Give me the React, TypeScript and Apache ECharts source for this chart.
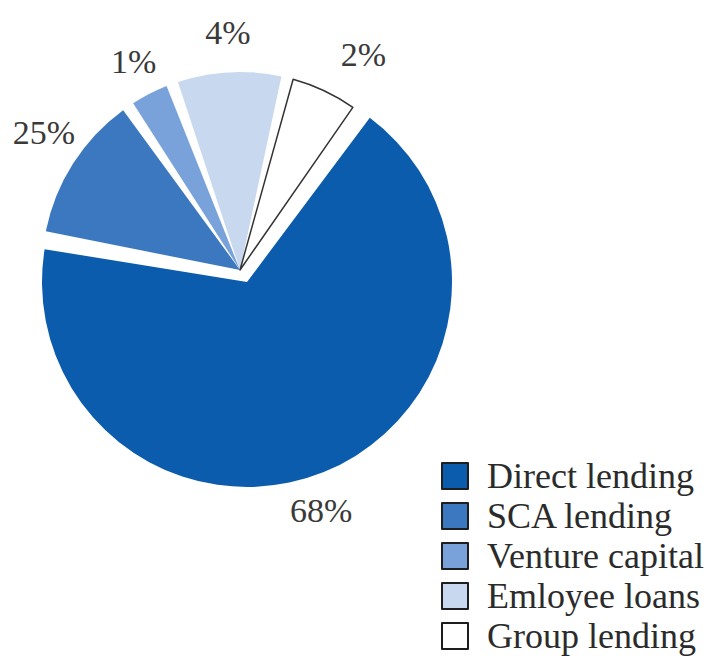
import React, { useEffect, useRef } from 'react';
import * as echarts from 'echarts';

// Data
const categories = ['Direct lending', 'SCA lending', 'Venture capital', 'Emloyee loans', 'Group lending'];
// Shares as drawn (slice sizes in the picture)
const sliceShares = [67.5, 12.8, 4.0, 9.4, 6.3];
// Label texts printed beside the slices
const labelTexts = ['68%', '25%', '1%', '4%', '2%'];

const colors = ['#0b5cad', '#3b78c0', '#7aa2da', '#c8d8ee', '#ffffff'];
// small per-label nudges (style) to mimic the original label placement
const labelNudges: [number, number][] = [[-9, 17], [7, -8], [4, 6], [1, 3], [21, 3]];
const FONT = 'Liberation Serif';

export default function App() {
  const ref = useRef<HTMLDivElement>(null);

  useEffect(() => {
    document.body.style.margin = '0';
    const chart = echarts.init(ref.current!, undefined, { renderer: 'svg' });
    const START = 53.5;

    const sliceData = (visible: (i: number) => boolean) =>
      categories.map((name, i) => ({
        name,
        value: sliceShares[i],
        itemStyle: visible(i)
          ? {
              color: colors[i],
              borderColor: i === 4 ? '#333333' : 'transparent',
              borderWidth: i === 4 ? 1.5 : 0,
            }
          : { color: 'transparent', borderWidth: 0 },
      }));

    chart.setOption({
      animation: false,
      backgroundColor: '#ffffff',
      legend: {
        orient: 'vertical',
        left: 441,
        top: 458,
        padding: 0,
        itemWidth: 26,
        itemHeight: 26,
        itemGap: 4,
        selectedMode: false,
        icon: 'rect',
        textStyle: {
          fontFamily: FONT,
          fontSize: 36,
          color: '#2b2b2b',
          padding: [0, 0, 0, 14],
        },
        data: categories.map((name, i) => ({
          name,
          icon: 'rect',
          itemStyle: { color: colors[i], borderColor: '#1e1e1e', borderWidth: 2, opacity: 1 },
        })),
      },
      series: [
        {
          type: 'pie',
          name: 'direct',
          center: [247, 282],
          radius: 205,
          startAngle: START,
          padAngle: 0.6,
          silent: true,
          selectedMode: false,
          label: { show: false },
          labelLine: { show: false },
          emphasis: { disabled: true },
          data: sliceData((i) => i === 0),
        },
        {
          type: 'pie',
          name: 'others',
          center: [240, 270],
          radius: 198,
          startAngle: START,
          padAngle: 3.5,
          silent: true,
          selectedMode: false,
          label: { show: false },
          labelLine: { show: false },
          emphasis: { disabled: true },
          data: sliceData((i) => i !== 0),
        },
        {
          type: 'pie',
          name: 'labels',
          center: [240, 270],
          radius: [226, 250],
          startAngle: START,
          silent: true,
          selectedMode: false,
          avoidLabelOverlap: false,
          emphasis: { disabled: true },
          itemStyle: { color: 'transparent', borderWidth: 0 },
          labelLine: { show: false },
          label: {
            show: true,
            position: 'inside',
            formatter: (p: any) => labelTexts[p.dataIndex],
            fontFamily: FONT,
            fontSize: 34,
            color: '#3a3a3a',
          },
          labelLayout: (p: any) => ({ dx: labelNudges[p.dataIndex][0], dy: labelNudges[p.dataIndex][1] }),
          data: categories.map((name, i) => ({ name, value: sliceShares[i] })),
        },
      ],
    });

    return () => chart.dispose();
  }, []);

  return (
    <div
      ref={ref}
      style={{ position: 'fixed', left: 0, top: 0, width: 710, height: 661, background: '#fff' }}
    />
  );
}
